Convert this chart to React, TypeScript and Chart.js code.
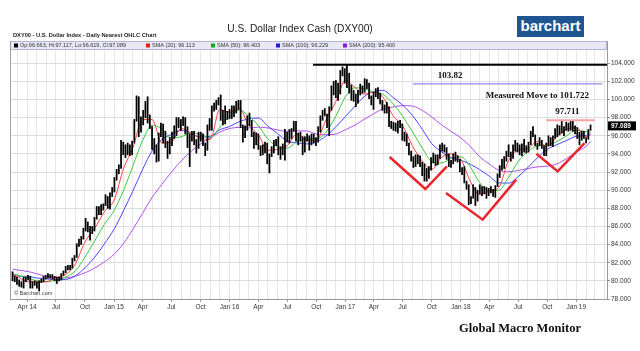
import React, { useEffect, useRef } from "react";
import { Chart, registerables } from "chart.js";
Chart.register(...registerables);

// ---------- DATA ----------
const WEEK_START = "2014-02-14"; // weekly bars (Fridays)
const WEEK_LOW = [
  80.0, 79.9, 79.6, 79.4, 79.3, 79.2, 79.9, 80.1, 79.2, 79.2,
  79.5, 79.2, 78.9, 79.8, 79.9, 80.2, 80.3, 80.3, 80.2, 80.0,
  79.7, 80.0, 80.1, 80.6, 80.9, 81.2, 81.2, 81.4, 82.2, 82.6,
  83.8, 84.0, 84.6, 85.5, 85.4, 84.5, 85.2, 85.5, 86.8, 87.3,
  87.3, 87.8, 88.3, 88.0, 87.9, 89.3, 89.8, 91.1, 91.8, 92.4,
  93.9, 93.6, 93.9, 93.8, 93.9, 95.2, 97.6, 95.9, 96.4, 97.2,
  98.0, 97.4, 96.8, 94.5, 94.0, 93.1, 93.2, 95.9, 95.2, 94.7,
  93.5, 94.0, 94.9, 95.7, 96.0, 96.9, 96.6, 97.1, 96.2, 94.7,
  92.6, 95.4, 95.0, 94.1, 94.6, 95.4, 94.9, 93.8, 94.4, 96.6,
  96.6, 98.7, 98.9, 99.4, 97.7, 97.2, 97.3, 97.8, 97.9, 97.9,
  98.1, 98.5, 98.9, 96.9, 95.3, 95.8, 96.6, 97.1, 95.9, 94.6,
  95.0, 94.5, 93.8, 93.9, 94.1, 92.9, 91.9, 93.7, 94.1, 94.9,
  93.9, 93.4, 93.9, 93.3, 95.3, 95.2, 95.7, 96.5, 95.4, 95.0,
  95.4, 93.9, 94.2, 95.4, 94.4, 95.0, 95.2, 94.9, 95.3, 96.4,
  97.7, 98.2, 96.9, 96.0, 98.8, 100.5, 100.2, 99.9, 100.6, 102.6,
  101.8, 101.3, 100.7, 99.9, 99.8, 99.2, 99.6, 100.5, 100.7, 100.8,
  101.2, 100.1, 99.4, 98.9, 100.3, 100.1, 99.5, 98.8, 98.5, 98.5,
  97.0, 96.8, 96.6, 96.5, 96.3, 96.9, 95.5, 95.4, 94.9, 93.9,
  93.2, 92.5, 92.6, 92.9, 92.6, 91.6, 91.0, 91.0, 91.3, 92.2,
  93.0, 92.7, 92.8, 93.5, 94.3, 94.2, 93.4, 92.6, 92.5, 92.9,
  93.2, 93.1, 92.0, 91.7, 90.8, 90.1, 88.4, 88.5, 89.1, 88.3,
  88.8, 89.6, 89.4, 89.6, 89.1, 89.4, 89.7, 89.3, 89.2, 90.4,
  91.4, 92.2, 92.4, 93.2, 93.7, 93.2, 93.5, 94.3, 94.2, 93.9,
  93.8, 94.2, 94.1, 94.2, 95.0, 95.9, 94.9, 94.5, 94.9, 94.6,
  93.8, 93.8, 94.9, 94.9, 94.8, 95.7, 95.9, 96.1, 96.3, 96.0,
  96.6, 96.5, 96.6, 96.5, 96.2, 95.7, 95.0, 95.5, 95.7, 95.2,
  95.6, 96.6,
];
const WEEK_HIGH = [
  81.0, 80.5, 80.4, 80.1, 79.9, 80.4, 80.4, 80.6, 80.5, 79.9,
  80.0, 79.9, 80.0, 80.2, 80.5, 80.6, 80.8, 80.7, 80.7, 80.5,
  80.4, 80.4, 80.8, 81.1, 81.6, 81.7, 81.7, 82.5, 82.8, 84.1,
  84.6, 84.9, 85.8, 86.9, 86.5, 86.0, 86.0, 87.0, 88.2, 88.2,
  88.4, 88.5, 89.5, 89.3, 89.7, 90.3, 91.4, 92.3, 92.8, 95.5,
  95.3, 95.0, 95.2, 95.0, 95.4, 97.8, 100.4, 100.3, 98.1, 98.8,
  99.8, 100.3, 98.3, 97.0, 95.7, 95.0, 96.3, 97.4, 97.3, 96.5,
  95.4, 95.8, 96.4, 97.1, 98.0, 98.0, 97.8, 98.1, 98.0, 97.0,
  96.2, 96.5, 96.5, 95.6, 96.4, 96.4, 96.2, 95.2, 97.2, 97.9,
  99.3, 99.6, 99.9, 100.2, 100.5, 98.8, 99.3, 98.7, 98.9, 99.3,
  99.3, 99.8, 99.9, 99.9, 97.2, 97.1, 98.2, 98.5, 97.7, 96.4,
  96.3, 96.2, 94.9, 95.0, 95.3, 95.2, 94.0, 94.8, 95.5, 95.6,
  95.9, 94.8, 95.1, 96.7, 96.4, 96.7, 96.8, 97.6, 97.6, 96.3,
  96.4, 95.9, 95.9, 96.2, 96.0, 96.2, 96.2, 95.8, 97.0, 98.2,
  98.8, 99.0, 98.4, 99.2, 101.5, 102.0, 102.1, 101.8, 103.2, 103.6,
  103.4, 103.8, 102.9, 101.6, 101.0, 100.6, 101.0, 101.7, 101.5, 102.3,
  102.2, 101.8, 100.4, 100.8, 101.2, 101.3, 100.7, 99.9, 99.4, 99.7,
  99.2, 97.6, 97.5, 97.4, 97.6, 97.7, 97.3, 96.4, 96.2, 95.2,
  94.3, 93.7, 93.9, 93.9, 93.8, 93.1, 92.9, 92.4, 92.6, 93.6,
  94.1, 93.9, 93.9, 95.0, 95.2, 95.0, 94.7, 94.0, 93.3, 94.0,
  94.2, 93.8, 93.4, 92.5, 92.6, 91.0, 90.6, 89.3, 90.6, 90.3,
  90.0, 90.6, 90.4, 90.4, 90.3, 90.2, 90.4, 90.1, 90.5, 91.8,
  92.7, 93.4, 93.7, 94.3, 95.0, 94.2, 95.0, 95.5, 95.2, 95.0,
  95.1, 95.6, 94.9, 95.3, 96.5, 97.0, 96.1, 95.2, 95.8, 95.5,
  94.9, 95.2, 96.0, 95.8, 96.0, 96.8, 97.2, 97.1, 97.7, 97.0,
  97.5, 97.4, 97.7, 97.6, 97.1, 96.9, 96.4, 96.5, 96.5, 95.8,
  96.7, 97.2,
];

// moving averages: first bar, then 1st of each month Mar 2014..Feb 2019, then last bar
const SMA_FIRST = "2014-02-14";
const SMA_LAST_DATE = "2019-02-15";
const SMA20 = [
  80.7,
  80.5, 79.9, 79.9, 79.9, 80.4, 80.7, 81.9, 84.3, 85.8, 87.6,
  88.9, 92.5, 94.6, 97.8, 97.8, 95.2, 95.3, 96.8, 96.3, 95.7, 95.6, 98.9,
  98.6, 99.0, 97.2, 96.1, 94.4, 94.5, 94.9, 96.2, 95.5, 95.5, 97.8, 99.7,
  102.1, 101.3, 100.6, 100.8, 100.2, 98.2, 97.1, 94.9, 93.2, 92.3, 93.6, 94.0,
  93.4, 90.9, 89.5, 89.9, 90.3, 93.3, 94.4, 94.6, 95.4, 94.8, 95.9, 96.7,
  96.9, 95.9,
  96.113,
];
const SMA50 = [
  80.8,
  80.64, 80.34, 80.02, 79.9, 80.1, 80.42, 81.12, 82.62, 84.42, 86.22,
  87.76, 90.08, 92.62, 95.46, 97.16, 96.76, 95.76, 95.88, 96.3, 96.16, 95.78, 96.94,
  98.12, 98.82, 98.2, 97.12, 95.64, 94.78, 94.64, 95.34, 95.66, 95.64, 96.42, 98.1,
  100.28, 101.3, 101.18, 100.82, 100.52, 99.52, 98.16, 96.44, 94.66, 93.18, 93.0, 93.5,
  93.68, 92.52, 90.84, 89.94, 89.98, 91.42, 93.14, 94.26, 94.88, 95.0, 95.36, 96.0,
  96.62, 96.46,
  96.403,
];
const SMA100 = [
  80.6,
  80.52, 80.5, 80.32, 80.22, 80.12, 80.16, 80.56, 81.44, 82.62, 84.06,
  85.7, 87.82, 89.88, 92.28, 94.32, 95.58, 96.14, 96.58, 96.28, 95.86, 95.94, 96.66,
  97.02, 97.56, 97.86, 97.96, 97.06, 96.24, 95.42, 95.22, 95.1, 95.32, 95.98, 96.94,
  98.12, 99.28, 100.3, 100.9, 101.0, 100.22, 99.38, 98.24, 96.72, 95.14, 94.22, 93.6,
  93.3, 92.84, 92.28, 91.54, 90.8, 90.78, 91.48, 92.5, 93.6, 94.5, 95.02, 95.48,
  95.94, 96.04,
  96.229,
];
const SMA200 = [
  81.3,
  81.2, 81.05, 80.79, 80.48, 80.37, 80.34, 80.53, 80.88, 81.42, 82.09,
  82.93, 84.19, 85.66, 87.45, 89.19, 90.64, 91.98, 93.23, 94.28, 95.09, 95.76, 96.4,
  96.8, 96.92, 96.86, 96.95, 96.86, 96.63, 96.49, 96.54, 96.53, 96.19, 96.11, 96.18,
  96.67, 97.19, 97.81, 98.44, 98.97, 99.17, 99.33, 99.27, 98.81, 98.07, 97.22, 96.49,
  95.77, 94.78, 93.71, 92.88, 92.2, 92.04, 92.16, 92.39, 92.57, 92.65, 92.9, 93.48,
  94.22, 94.82,
  95.4,
];

const LAST_OHLC = [96.663, 97.117, 96.619, 97.089];
const LAST_SMA = [96.113, 96.403, 96.229, 95.4];

// annotations (date, value)
const HIGH_LINE: [string, number][] = [["2016-09-21", 103.82], ["2019-04-08", 103.82]];
const TARGET_LINE: [string, number][] = [["2017-08-03", 101.722], ["2019-03-24", 101.722]];
const RECENT_HIGH_LINE: [string, number][] = [["2018-09-28", 97.711], ["2019-02-28", 97.711]];
const V1: [string, number][] = [["2017-05-21", 93.66], ["2017-09-11", 90.13], ["2017-11-18", 92.62]];
const V2: [string, number][] = [["2017-11-15", 89.69], ["2018-03-11", 86.75], ["2018-06-25", 91.16]];
const V3: [string, number][] = [["2018-08-28", 94.02], ["2018-11-03", 92.07], ["2019-01-27", 95.2]];
const NOTES: { text: string; date: string; value: number }[] = [
  { text: "103.82", date: "2017-11-28", value: 102.62 },
  { text: "Measured Move to 101.722", date: "2018-08-31", value: 100.42 },
  { text: "97.711", date: "2018-12-04", value: 98.65 },
];

const X_LABELS = ["Apr 14", "Jul", "Oct", "Jan 15", "Apr", "Jul", "Oct", "Jan 16", "Apr", "Jul", "Oct",
  "Jan 17", "Apr", "Jul", "Oct", "Jan 18", "Apr", "Jul", "Oct", "Jan 19"];
const Y_TICKS = [78, 80, 82, 84, 86, 88, 90, 92, 94, 96, 98, 100, 102, 104];
const X_MIN_DATE = "2014-02-06";
const X_MAX_DATE = "2019-04-08";

// ---------- helpers ----------
const DAY0 = Date.UTC(2014, 0, 1);
function dayOf(s: string): number {
  const [y, m, d] = s.split("-").map(Number);
  return (Date.UTC(y, m - 1, d) - DAY0) / 86400000;
}
const pts = (arr: [string, number][]) => arr.map(([d, v]) => ({ x: dayOf(d), y: v }));

export default function App() {
  const ref = useRef<HTMLCanvasElement>(null);

  useEffect(() => {
    document.body.style.margin = "0";
    const canvas = ref.current;
    if (!canvas) return;
    Chart.defaults.font.family = '"Liberation Sans", Arial, sans-serif';

    const xMin = dayOf(X_MIN_DATE);
    const xMax = dayOf(X_MAX_DATE);
    const w0 = dayOf(WEEK_START);

    // month grid & quarterly labels
    const monthTicks: number[] = [];
    const labelMap = new Map<number, string>();
    let q = 0;
    for (let y = 2014; y <= 2019; y++) {
      for (let m = 0; m < 12; m++) {
        const d = (Date.UTC(y, m, 1) - DAY0) / 86400000;
        if (d < xMin || d > xMax) continue;
        monthTicks.push(d);
        if (m % 3 === 0 && (y > 2014 || m >= 3) && q < X_LABELS.length) {
          labelMap.set(d, X_LABELS[q++]);
        }
      }
    }

    const smaDates: string[] = [SMA_FIRST];
    for (let y = 2014; y <= 2019; y++) {
      for (let m = 1; m <= 12; m++) {
        if ((y === 2014 && m < 3) || (y === 2019 && m > 2)) continue;
        smaDates.push(`${y}-${String(m).padStart(2, "0")}-01`);
      }
    }
    smaDates.push(SMA_LAST_DATE);
    const smaLine = (vals: number[], color: string, label: string) => ({
      type: "line" as const,
      label,
      data: smaDates.map((d, i) => ({ x: dayOf(d), y: vals[i] })),
      borderColor: color,
      borderWidth: 1,
      pointRadius: 0,
      cubicInterpolationMode: "monotone" as const,
      order: 3,
    });
    const annLine = (arr: [string, number][], color: string, width: number) => ({
      type: "line" as const,
      data: pts(arr),
      borderColor: color,
      borderWidth: width,
      pointRadius: 0,
      tension: 0,
      order: 0,
    });

    const decor = {
      id: "decor",
      beforeDatasetsDraw(chart: any) {
        const { ctx, chartArea: a } = chart;
        ctx.save();
        ctx.fillStyle = "#e4e4f6";
        ctx.globalAlpha = 0.85;
        ctx.fillRect(a.left, a.top, a.right - a.left, 8);
        ctx.globalAlpha = 1;
        ctx.strokeStyle = "#b4b4d4";
        ctx.lineWidth = 1;
        ctx.strokeRect(a.left + 0.5, a.top + 0.5, a.right - a.left - 1, 8);
        ctx.strokeStyle = "#a0a0a0";
        ctx.beginPath();
        ctx.moveTo(a.left + 0.5, a.top);
        ctx.lineTo(a.left + 0.5, a.bottom);
        ctx.stroke();
        ctx.restore();
      },
      afterDatasetsDraw(chart: any) {
        const { ctx, chartArea: a, scales } = chart;
        const xs = scales.x, ys = scales.y;
        ctx.save();
        // legend band content
        const items = [
          { c: "#000000", t: `Op:${LAST_OHLC[0].toFixed(3)}, Hi:${LAST_OHLC[1].toFixed(3)}, Lo:${LAST_OHLC[2].toFixed(3)}, Cl:${LAST_OHLC[3].toFixed(3)}`, x: 14 },
          { c: "#e81c1c", t: `SMA (20): ${LAST_SMA[0].toFixed(3)}`, x: 146 },
          { c: "#1aa31a", t: `SMA (50): ${LAST_SMA[1].toFixed(3)}`, x: 211 },
          { c: "#1c1cd8", t: `SMA (100): ${LAST_SMA[2].toFixed(3)}`, x: 276 },
          { c: "#8a1cd8", t: `SMA (200): ${LAST_SMA[3].toFixed(3)}`, x: 343 },
        ];
        ctx.font = '5.5px "Liberation Sans", Arial, sans-serif';
        ctx.textBaseline = "middle";
        ctx.textAlign = "left";
        const cy = a.top + 4.5;
        for (const it of items) {
          ctx.fillStyle = it.c;
          ctx.fillRect(it.x, cy - 2, 4, 4);
          ctx.fillStyle = "#333";
          ctx.fillText(it.t, it.x + 6, cy);
        }
        // notes
        ctx.fillStyle = "#111";
        ctx.font = 'bold 9px "Liberation Serif", "Times New Roman", serif';
        ctx.textAlign = "center";
        for (const n of NOTES) {
          ctx.fillText(n.text, xs.getPixelForValue(dayOf(n.date)), ys.getPixelForValue(n.value));
        }
        // copyright
        ctx.fillStyle = "#444";
        ctx.font = '5.5px "Liberation Sans", Arial, sans-serif';
        ctx.textAlign = "left";
        ctx.fillText("© Barchart.com", a.left + 4, a.bottom - 6);
        // last price tag
        const py = ys.getPixelForValue(LAST_OHLC[3]);
        ctx.fillStyle = "#000";
        ctx.fillRect(a.right + 1, py - 4.5, 28, 9);
        ctx.fillStyle = "#fff";
        ctx.font = 'bold 6.5px "Liberation Sans", Arial, sans-serif';
        ctx.fillText(LAST_OHLC[3].toFixed(3), a.right + 4, py + 0.5);
        ctx.restore();
      },
    };

    const chart = new Chart(canvas, {
      type: "bar",
      data: {
        datasets: [
          {
            type: "bar" as const,
            label: "DXY00",
            data: WEEK_LOW.map((lo, i) => ({ x: w0 + 7 * i, y: [lo, WEEK_HIGH[i]] })) as any,
            backgroundColor: "#000",
            borderWidth: 0,
            barThickness: 1.1,
            grouped: false,
            order: 1,
          },
          smaLine(SMA20, "#ff4040", "SMA 20"),
          smaLine(SMA50, "#3cc83c", "SMA 50"),
          smaLine(SMA100, "#4646ff", "SMA 100"),
          smaLine(SMA200, "#b050f0", "SMA 200"),
          annLine(HIGH_LINE, "#000000", 2),
          annLine(TARGET_LINE, "#6f6fe8", 1),
          annLine(RECENT_HIGH_LINE, "#f5a3a3", 2),
          annLine(V1, "#e8262b", 2.5),
          annLine(V2, "#e8262b", 2.5),
          annLine(V3, "#e8262b", 2.5),
        ] as any,
      },
      options: {
        animation: false,
        responsive: false,
        events: [],
        layout: { padding: { left: 10, top: 41, right: 0, bottom: 0 } },
        plugins: { legend: { display: false }, tooltip: { enabled: false }, title: { display: false } },
        scales: {
          x: {
            type: "linear",
            min: xMin,
            max: xMax,
            offset: false,
            afterBuildTicks: (s: any) => { s.ticks = monthTicks.map((v) => ({ value: v })); },
            afterFit: (s: any) => { s.height = 52; },
            grid: {
              color: "#e6e6e6",
              lineWidth: 1,
              offset: false,
              tickLength: 3,
              tickColor: (c: any) => (c.tick && labelMap.has(c.tick.value) ? "#999" : "rgba(0,0,0,0)"),
            },
            border: { display: true, color: "#999" },
            ticks: {
              autoSkip: false,
              maxRotation: 0,
              padding: 1,
              color: "#333",
              font: { size: 6.5 },
              callback: (v: any) => labelMap.get(Number(v)) ?? "",
            },
          },
          y: {
            type: "linear",
            position: "right",
            min: 78,
            max: 106.45,
            afterBuildTicks: (s: any) => { s.ticks = Y_TICKS.map((v) => ({ value: v })); },
            afterFit: (s: any) => { s.width = 33; },
            grid: { color: "#dddddd", lineWidth: 1, tickLength: 3, tickColor: "#999" },
            border: { display: true, color: "#999" },
            ticks: {
              padding: 1,
              color: "#333",
              font: { size: 6.5 },
              callback: (v: any) => Number(v).toFixed(3),
            },
          },
        },
      },
      plugins: [decor],
    });
    return () => chart.destroy();
  }, []);

  return (
    <div style={{ position: "fixed", left: 0, top: 0, width: 640, height: 351, background: "#fff", overflow: "hidden" }}>
      <canvas ref={ref} width={640} height={351} style={{ position: "absolute", left: 0, top: 0, width: 640, height: 351 }} />
      <div style={{ position: "absolute", left: 300, top: 22, transform: "translateX(-50%)", whiteSpace: "nowrap",
        font: '10.2px "Liberation Sans", Arial, sans-serif', color: "#222", lineHeight: "13px" }}>
        U.S. Dollar Index Cash (DXY00)
      </div>
      <div style={{ position: "absolute", left: 13, top: 32, whiteSpace: "nowrap",
        font: 'bold 5.7px "Liberation Sans", Arial, sans-serif', color: "#222", lineHeight: "7px" }}>
        DXY00 - U.S. Dollar Index - Daily Nearest OHLC Chart
      </div>
      <div style={{ position: "absolute", left: 517, top: 16, width: 67, height: 21, background: "#1f5591",
        color: "#fff", font: 'bold 15px "Liberation Sans", Arial, sans-serif', lineHeight: "19px", textAlign: "center" }}>
        barchart
      </div>
      <div style={{ position: "absolute", left: 520, top: 321, transform: "translateX(-50%)", whiteSpace: "nowrap",
        font: 'bold 12.5px "Liberation Serif", "Times New Roman", serif', color: "#111", lineHeight: "15px" }}>
        Global Macro Monitor
      </div>
    </div>
  );
}
